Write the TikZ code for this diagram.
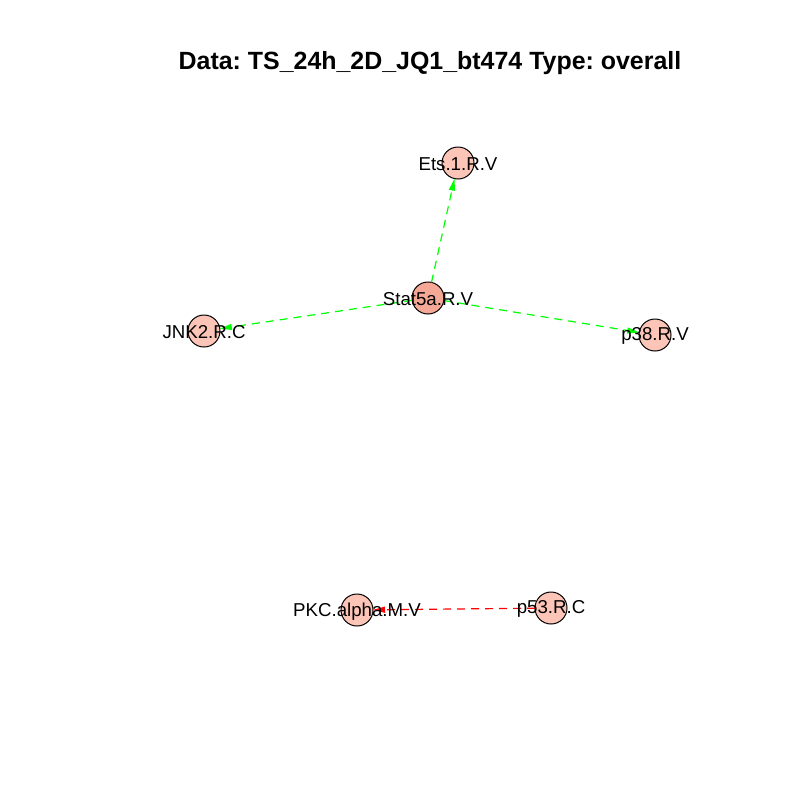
\documentclass[tikz,border=0pt]{standalone}
\usepackage{fontspec}
\setmainfont{Liberation Sans}
\usetikzlibrary{arrows.meta}
\frenchspacing
\definecolor{vlight}{RGB}{252,197,183}
\definecolor{vdark}{RGB}{246,168,150}
\definecolor{egreen}{RGB}{0,255,0}
\definecolor{ered}{RGB}{255,0,0}
\tikzset{
  vertex/.style={circle,draw=black,line width=0.75pt,minimum size=24pt,inner sep=0pt,outer sep=0pt,fill=vlight},
  lbl/.style={font=\fontsize{14pt}{16pt}\selectfont,inner sep=0pt},
  edge/.style={line width=0.9pt,dash pattern=on 6pt off 4.5pt,-{Triangle[length=9pt,width=4.5pt]}},
}
\begin{document}
\begin{tikzpicture}[x=0.75pt,y=-0.75pt]
\useasboundingbox (0,0) rectangle (800,800);
\fill[white] (0,0) rectangle (800,800);
\node[font=\bfseries\fontsize{18.7pt}{22pt}\selectfont,inner sep=0pt] (title) at (430,63) {Data: TS\_24h\_2D\_JQ1\_bt474 Type: overall};
\node[vertex] (ets) at (458,163) {};
\node[vertex,fill=vdark] (stat) at (428,298) {};
\node[vertex] (jnk) at (204,331) {};
\node[vertex] (p38) at (655,335) {};
\node[vertex] (pkc) at (357,610) {};
\node[vertex] (p53) at (551,608) {};
\draw[edge,egreen] (stat) -- (ets);
\draw[edge,egreen] (stat) -- (jnk);
\draw[edge,egreen] (stat) -- (p38);
\draw[edge,ered] (p53) -- (pkc);
\node[lbl] at ([yshift=-1pt]ets) {Ets.1.R.V};
\node[lbl] at ([yshift=-1pt]stat) {Stat5a.R.V};
\node[lbl] at ([yshift=-1pt]jnk) {JNK2.R.C};
\node[lbl] at ([yshift=-1pt]p38) {p38.R.V};
\node[lbl] at ([yshift=-1pt]pkc) {PKC.alpha.M.V};
\node[lbl] at ([yshift=-1pt]p53) {p53.R.C};
\end{tikzpicture}
\end{document}
